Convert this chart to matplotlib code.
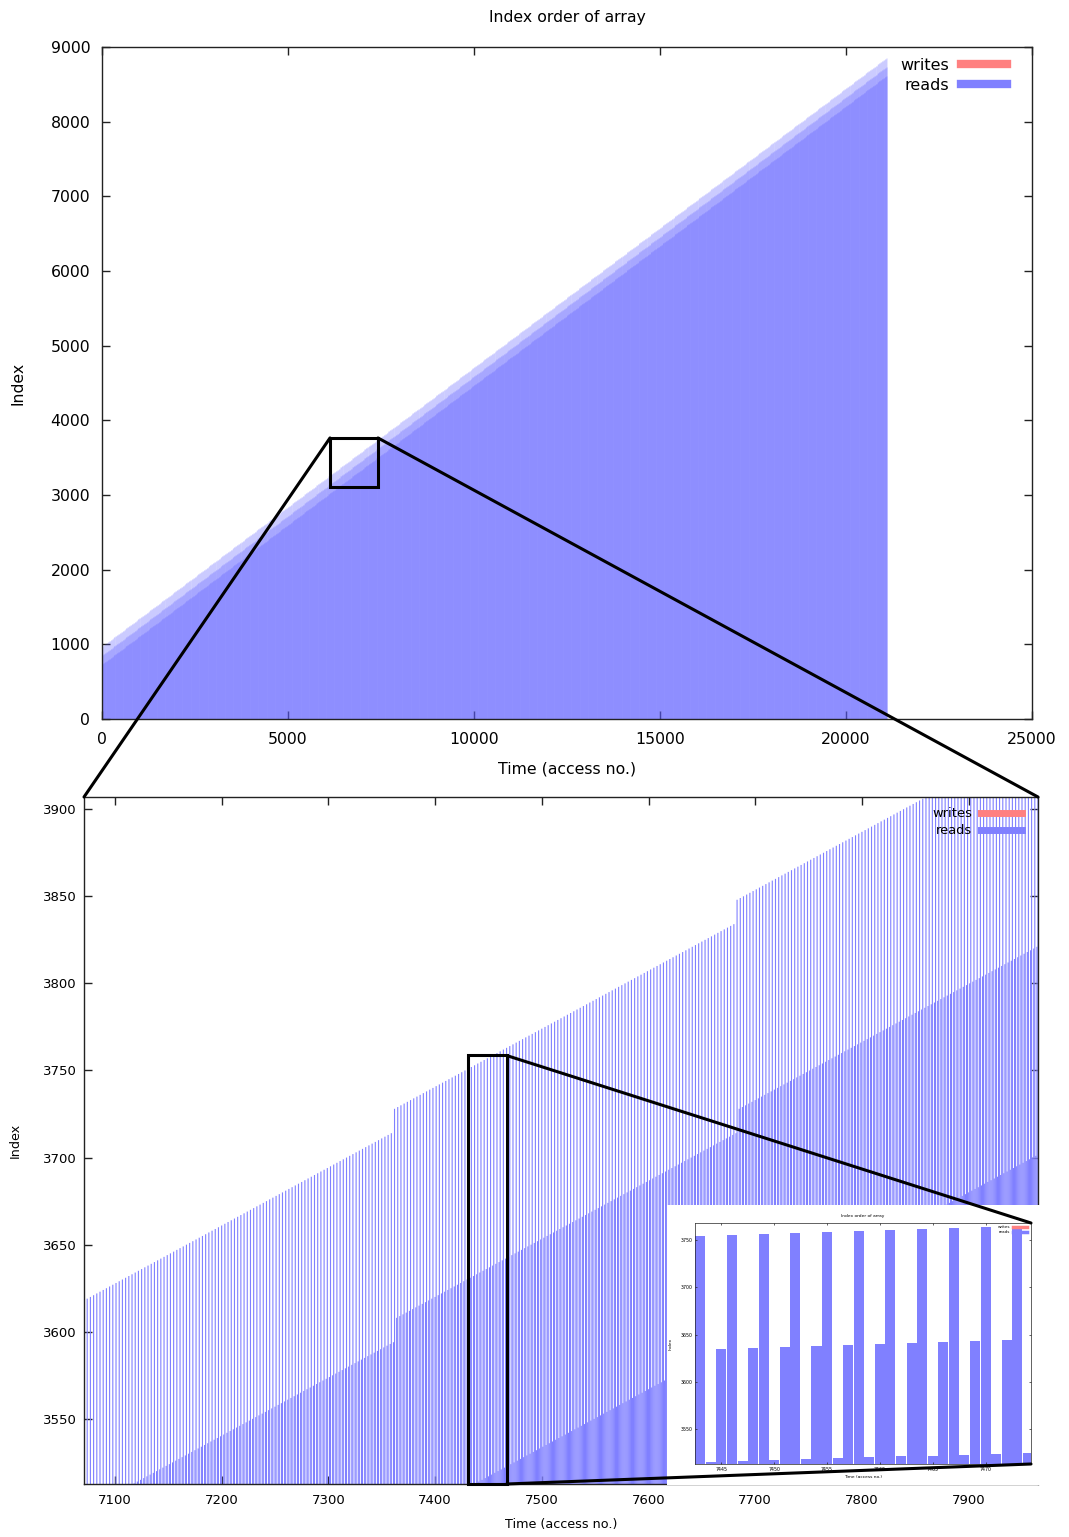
import numpy as np
import matplotlib
matplotlib.use("Agg")
import matplotlib.pyplot as plt
from matplotlib.lines import Line2D
from matplotlib.patches import Rectangle, ConnectionPatch

# =========================
# DATA
# =========================
# the trace is a 3-point stencil sweep over a 2D array:
# for every cell we read (row+1), (row-1), (row) -> three accesses per cell
row_width = 120            # index step between two rows
cols_per_row = 107         # cells visited in one row
start_col = 7              # sweep starts a bit into the first row
first_index = 848          # index of the first visited cell
n_cells = 7034             # -> ~21100 accesses
stencil_offsets = [120, -120, 0]

writes_time = []           # no writes in this trace
writes_index = []

pos = np.arange(n_cells) + start_col
centre = first_index + (pos // cols_per_row) * row_width + pos % cols_per_row
reads_index = (centre[:, None] + np.array(stencil_offsets)[None, :]).ravel()
reads_time = np.arange(reads_index.size)

# views
top_xlim, top_ylim = (0, 25000), (0, 9000)
top_xticks = [0, 5000, 10000, 15000, 20000, 25000]
top_yticks = [0, 1000, 2000, 3000, 4000, 5000, 6000, 7000, 8000, 9000]
top_box = (6129, 7419, 3107, 3764)

mid_xlim, mid_ylim = (7071, 7965), (3512.6, 3907)
mid_xticks = [7100, 7200, 7300, 7400, 7500, 7600, 7700, 7800, 7900]
mid_yticks = [3550, 3600, 3650, 3700, 3750, 3800, 3850, 3900]
mid_box = (7431, 7467, 3512.6, 3758.6)

ins_xlim, ins_ylim = (7442.5, 7474.3), (3513, 3768.3)
ins_xticks = [7445, 7450, 7455, 7460, 7465, 7470]
ins_yticks = [3550, 3600, 3650, 3700, 3750]

READ_COL = '#8080ff'
WRITE_COL = '#ff8080'

W, H = 1069, 1537
fig = plt.figure(figsize=(W / 100, H / 100), dpi=100)


def px_axes(x0, y0, x1, y1, **kw):
    return fig.add_axes([x0 / W, 1 - y1 / H, (x1 - x0) / W, (y1 - y0) / H], **kw)


def style(ax, fs, ticklen, xpad, ypad, lw=1.0):
    ax.tick_params(direction='in', top=True, right=True, length=ticklen,
                   width=lw, labelsize=fs, color='#222222')
    ax.tick_params(axis='x', pad=xpad)
    ax.tick_params(axis='y', pad=ypad)
    for s in ax.spines.values():
        s.set_linewidth(lw)
        s.set_color('#222222')


def legend(ax, fs, anchor, hlen, lw, spacing):
    handles = [Line2D([], [], color=WRITE_COL, lw=lw),
               Line2D([], [], color=READ_COL, lw=lw)]
    ax.legend(handles, ['writes', 'reads'], loc='upper right',
              bbox_to_anchor=anchor, frameon=False, markerfirst=False,
              fontsize=fs, handlelength=hlen, handletextpad=0.7,
              borderpad=0, borderaxespad=0, labelspacing=spacing)


# =========================
# TOP: full trace
# =========================
ax = px_axes(102, 47, 1032, 719, zorder=0)
ax.vlines(reads_time, 0, reads_index, color='#6060ff', alpha=0.04, lw=0.72)
ax.vlines(writes_time, 0, writes_index, color=WRITE_COL, lw=0.72)
ax.set_xlim(*top_xlim)
ax.set_ylim(*top_ylim)
ax.set_xticks(top_xticks)
ax.set_yticks(top_yticks)
style(ax, 11.3, 6, 9, 8.5)
ax.set_title("Index order of array", fontsize=11.3, pad=18)
ax.set_xlabel("Time (access no.)", fontsize=11.3)
ax.set_ylabel("Index", fontsize=11.3)
ax.xaxis.set_label_coords(0.5, -0.0625)
ax.yaxis.set_label_coords(-0.082, 0.5)
legend(ax, 11.5, (0.973, 0.984), 2.9, 6, 0.32)
ax.add_patch(Rectangle((top_box[0], top_box[2]), top_box[1] - top_box[0],
                       top_box[3] - top_box[2], fill=False, ec='black', lw=2.2, zorder=5))
ax_top = ax

# =========================
# MIDDLE: first zoom
# =========================
ax = px_axes(84, 797, 1038, 1484, zorder=0)
m = (reads_time >= mid_xlim[0] - 1) & (reads_time <= mid_xlim[1] + 1)
ax.vlines(reads_time[m], 0, reads_index[m], color=READ_COL, lw=0.8, snap=False)
ax.set_xlim(*mid_xlim)
ax.set_ylim(*mid_ylim)
ax.set_xticks(mid_xticks)
ax.set_yticks(mid_yticks)
style(ax, 9.5, 6, 7, 5.5)
ax.set_xlabel("Time (access no.)", fontsize=9.2)
ax.set_ylabel("Index", fontsize=9.2)
ax.xaxis.set_label_coords(0.5, -0.05)
ax.yaxis.set_label_coords(-0.065, 0.5)
legend(ax, 9.4, (0.983, 0.985), 3.1, 5, 0.3)
ax.add_patch(Rectangle((mid_box[0], mid_box[2]), mid_box[1] - mid_box[0],
                       mid_box[3] - mid_box[2], fill=False, ec='black', lw=2.2,
                       zorder=5, clip_on=False))
ax_mid = ax

# =========================
# INSET: second zoom (pasted small figure)
# =========================
fig.add_artist(Rectangle((667 / W, 1 - 1485 / H), 373 / W, 280 / H,
                         transform=fig.transFigure, fc='white', ec='none', zorder=1))
ax = px_axes(695, 1223, 1031, 1464, zorder=2)
m = (reads_time >= ins_xlim[0] - 1) & (reads_time <= ins_xlim[1] + 1)
ax.bar(reads_time[m], reads_index[m], width=0.95, color=READ_COL, bottom=0)
ax.set_xlim(*ins_xlim)
ax.set_ylim(*ins_ylim)
ax.set_xticks(ins_xticks)
ax.set_yticks(ins_yticks)
style(ax, 3.4, 1.5, 2.5, 1.5, lw=0.5)
ax.set_title("Index order of array", fontsize=3.2, pad=4)
ax.set_xlabel("Time (access no.)", fontsize=3.2, labelpad=2)
ax.set_ylabel("Index", fontsize=3.2, labelpad=6)
legend(ax, 3.0, (0.988, 0.99), 3.3, 2.5, 0.2)
ax_ins = ax

# =========================
# CONNECTING LINES
# =========================
links = [
    (ax_top, (top_box[0], top_box[3]), ax_mid, (0, 1)),
    (ax_top, (top_box[1], top_box[3]), ax_mid, (1, 1)),
    (ax_mid, (mid_box[1], mid_box[3]), ax_ins, (1, 1)),
    (ax_mid, (mid_box[1], mid_box[2]), ax_ins, (1, 0)),
]
for a, xy_a, b, xy_b in links:
    con = ConnectionPatch(xyA=xy_a, coordsA=a.transData, xyB=xy_b, coordsB=b.transAxes,
                          color='black', lw=2.2, zorder=10)
    fig.add_artist(con)

fig.savefig("out.png", dpi=100)
